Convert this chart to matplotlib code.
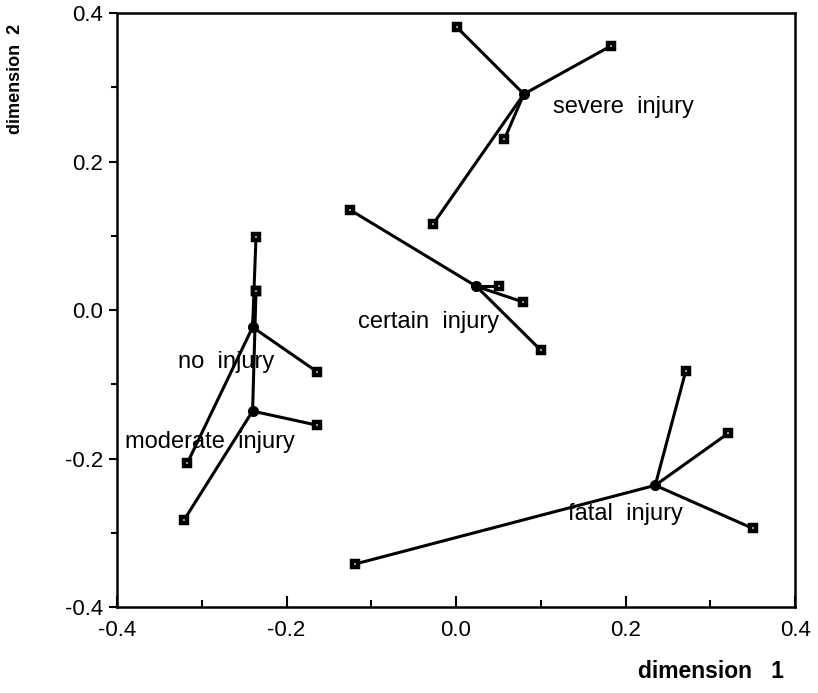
import numpy as np
import matplotlib
matplotlib.use("Agg")
import matplotlib.pyplot as plt
from matplotlib.ticker import MultipleLocator, FormatStrFormatter

plt.rcParams["font.family"] = ["Liberation Sans", "DejaVu Sans"]
plt.rcParams["axes.unicode_minus"] = False

# group centroids (dimension 1, dimension 2)
groups = ["severe  injury", "certain  injury", "no  injury", "moderate  injury", "fatal  injury"]
centroid_x = [0.080, 0.024, -0.240, -0.240, 0.235]
centroid_y = [0.291, 0.032, -0.023, -0.136, -0.236]

# member points for each group
severe_x = [0.001, 0.183, 0.057, -0.027]
severe_y = [0.381, 0.356, 0.230, 0.116]
certain_x = [-0.125, 0.051, 0.079, 0.100]
certain_y = [0.135, 0.032, 0.011, -0.054]
none_x = [-0.236, -0.236, -0.164, -0.317]
none_y = [0.098, 0.026, -0.083, -0.206]
moderate_x = [-0.236, -0.164, -0.321]
moderate_y = [0.026, -0.155, -0.283]
fatal_x = [0.271, 0.321, 0.350, -0.119]
fatal_y = [-0.082, -0.166, -0.294, -0.342]

members = [(severe_x, severe_y), (certain_x, certain_y), (none_x, none_y),
           (moderate_x, moderate_y), (fatal_x, fatal_y)]

# label anchor (left edge) for each group name
label_x = [0.114, -0.116, -0.328, -0.391, 0.132]
label_y = [0.273, -0.016, -0.070, -0.178, -0.275]

fig = plt.figure(figsize=(8.18, 6.93), dpi=100)
ax = fig.add_axes([0.143, 0.124, 0.829, 0.857])

for i, (mx, my) in enumerate(members):
    cx, cy = centroid_x[i], centroid_y[i]
    for px, py in zip(mx, my):
        ax.plot([cx, px], [cy, py], color="black", lw=2.2, zorder=2)
    ax.plot(mx, my, "s", ms=5, mfc="white", mec="black", mew=3.2, zorder=3)
    ax.plot(cx, cy, "o", ms=7, color="black", zorder=4)
    ax.text(label_x[i], label_y[i], groups[i], fontsize=17, ha="left", va="center", zorder=5)

ax.set_xlim(-0.4, 0.4)
ax.set_ylim(-0.4, 0.4)
for s in ax.spines.values():
    s.set_linewidth(1.8)
ax.xaxis.set_major_locator(MultipleLocator(0.2))
ax.xaxis.set_minor_locator(MultipleLocator(0.1))
ax.yaxis.set_major_locator(MultipleLocator(0.2))
ax.yaxis.set_minor_locator(MultipleLocator(0.1))
ax.xaxis.set_major_formatter(FormatStrFormatter("%.1f"))
ax.yaxis.set_major_formatter(FormatStrFormatter("%.1f"))
ax.tick_params(axis="x", which="major", direction="in", length=8, width=1.5, labelsize=16, pad=9)
ax.tick_params(axis="x", which="minor", direction="in", length=5, width=1.5)
ax.tick_params(axis="y", which="major", direction="out", length=6, width=1.5, labelsize=16, pad=4)
ax.tick_params(axis="y", which="minor", direction="out", length=4, width=1.5)

fig.text(0.780, 0.015, "dimension   1", fontsize=16.5, fontweight="bold", ha="left", va="bottom")
fig.text(0.008, 0.965, "dimension  2", fontsize=13, fontweight="bold", rotation=90, ha="left", va="top")

fig.savefig("out.png", dpi=100)
